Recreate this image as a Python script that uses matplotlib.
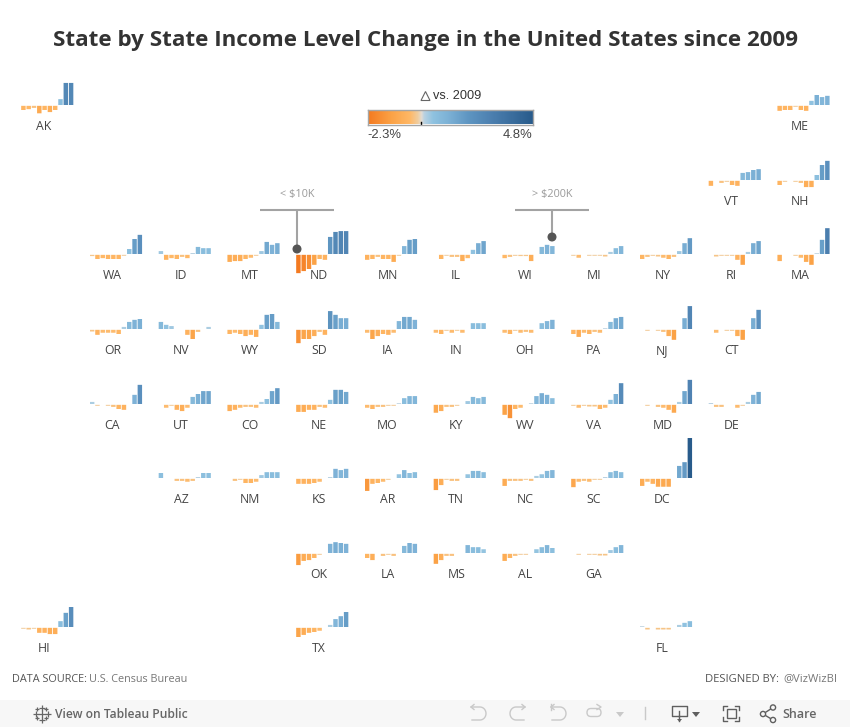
import numpy as np
import matplotlib
matplotlib.use('Agg')
from matplotlib import pyplot as plt
from matplotlib.colors import LinearSegmentedColormap, Normalize
from matplotlib.patches import Rectangle, Polygon, Circle, FancyBboxPatch

W, H = 850, 727

# % change vs 2009 by income bracket, lowest bracket (< $10K) to highest (> $200K)
row_a_states = ['AK', 'ME']
row_a_values = [[-.6, -.5, -.35, -1.0, -.6, -.85, -.6, .7, 2.65, 2.65],
                [-.7, -.6, -.6, -.2, -.6, -.7, .5, 1.2, .95, 1.1]]

row_b_states = ['VT', 'NH']
row_b_values = [[-.7, 0, -.35, -.2, -.6, -.7, .85, .95, 1.2, 1.3],
                [-.6, -.2, 0, -.2, -.35, -.85, -.85, .6, 1.8, 2.3]]

row_c_states = ['WA', 'ID', 'MT', 'ND', 'MN', 'IL', 'WI', 'MI', 'NY', 'RI', 'MA']
row_c_values = [[-.25, -.6, -.5, -.6, -.6, -.6, -.15, .6, 1.8, 2.3],
                [.35, -.7, -.5, -.6, -.35, -.5, .12, .85, .7, .7],
                [-.95, -.85, -.85, -.6, -.45, -.2, .35, 1.45, 1.1, 1.3],
                [-2.3, -2.05, -1.8, -1.3, -.6, -.7, 2.05, 2.65, 2.75, 2.75],
                [-.7, -.6, -.35, -.6, -.6, -.95, -.15, .95, 1.7, 1.8],
                [0, -.6, -.15, -.35, -.35, -.85, -.5, .5, 1.3, 1.55],
                [-.5, -.35, -.2, -.25, -.25, -.85, 0, .85, 1.1, .95],
                [-.15, -.45, 0, -.15, -.15, -.15, -.3, .25, .7, .95],
                [-.6, -.35, -.2, -.3, -.45, -.6, -.35, .35, 1.3, 1.9],
                [0, -.3, -.2, -.2, -.2, -.7, -1.3, .25, 1.3, 1.55],
                [-.85, 0, 0, -.2, -.45, -.95, -1.3, .1, 1.7, 3.1]]

row_d_states = ['OR', 'NV', 'WY', 'SD', 'IA', 'IN', 'OH', 'PA', 'NJ', 'CT']
row_d_values = [[-.3, -.7, -.45, -.45, -.45, -.6, .25, .85, 1.1, 1.2],
                [.85, .5, .35, 0, 0, -.7, -1.2, -.35, 0, .25],
                [-.6, -.45, -.6, -.85, -.7, -.95, .5, 1.7, 1.8, .85],
                [-1.7, -1.2, -1.2, -.85, -.35, -.7, 2.15, 1.7, 1.3, 1.3],
                [-.45, -1.2, -.85, -.6, -.7, -.45, .95, 1.45, 1.45, 1.1],
                [-.45, -.6, -.2, -.45, -.2, -.45, 0, .7, .7, .7],
                [-.45, -.6, -.2, -.45, -.35, -.45, 0, .7, .95, 1.1],
                [-.6, -.95, -.45, -.6, -.35, -.45, .1, .85, 1.3, 1.45],
                [0, -.2, 0, -.2, -.35, -.85, -1.3, 0, 1.3, 2.75],
                [0, -.45, 0, -.2, -.2, -.85, -1.3, 0, 1.3, 2.3]]

row_e_states = ['CA', 'UT', 'CO', 'NE', 'MO', 'KY', 'WV', 'VA', 'MD', 'DE']
row_e_values = [[.25, -.2, 0, -.2, -.35, -.6, -.7, 0, 1.1, 2.3],
                [0, -.45, -.2, -.7, -.85, -.45, .85, 1.2, 1.55, 1.55],
                [-.85, -.7, -.45, -.35, -.35, -.45, .25, .6, 1.55, 1.9],
                [-.95, -.95, -.7, -.7, -.35, -.45, .5, 1.7, 1.7, 1.45],
                [-.45, -.6, -.35, -.35, -.2, -.2, .1, .7, .95, .95],
                [-1.05, -.85, -.35, -.35, -.2, 0, .35, .85, .7, .85],
                [-1.3, -1.7, -.6, -.45, 0, .1, .95, 1.3, 1.1, .7],
                [-.2, -.45, -.2, -.3, -.3, -.6, -.45, .5, 1.2, 2.5],
                [0, -.2, 0, -.35, -.45, -.7, -1.05, .25, 1.55, 2.9],
                [.12, -.35, -.35, 0, 0, -.45, -.2, .25, 1.1, 1.45]]

row_f_states = ['AZ', 'NM', 'KS', 'AR', 'TN', 'NC', 'SC', 'DC']
row_f_values = [[.6, 0, 0, -.35, -.35, -.45, -.35, .12, .6, .6],
                [0, -.35, -.2, -.6, -.6, -.45, .35, .7, .7, .7],
                [-.7, -.7, -.7, -.6, -.45, 0, .12, 1.1, .95, 1.1],
                [-1.55, -.7, -.6, -.45, -.2, 0, .45, .95, .6, .7],
                [-1.45, -.85, -.2, -.35, -.35, 0, .45, .85, .85, .7],
                [-.95, -.35, -.35, -.35, -.2, -.35, .25, .45, .85, .95],
                [-1.1, -.45, -.35, -.45, -.2, -.2, .12, .7, .85, .7],
                [-.95, -.45, -.7, -1.05, -1.05, -1.05, 0, 1.45, 1.9, 4.8]]

row_g_states = ['OK', 'LA', 'MS', 'AL', 'GA']
row_g_values = [[-1.45, -.95, -.85, -.6, -.2, 0, 1.1, 1.3, 1.2, 1.1],
                [-.6, -.85, 0, -.35, -.2, -.35, 0, .85, 1.2, 1.1],
                [-1.3, -.85, -.35, -.35, 0, 0, .95, .7, .7, .45],
                [-.95, -.6, -.35, -.2, -.2, 0, .45, .7, .95, .6],
                [0, -.2, 0, -.2, -.2, -.3, -.3, .35, .7, .95]]

row_h_states = ['HI', 'TX', 'FL']
row_h_values = [[-.15, -.3, -.15, -.7, -.7, -.85, -.85, .7, 1.7, 2.4],
                [-1.2, -.95, -.7, -.6, -.45, 0, .25, .95, 1.3, 1.8],
                [.1, -.3, 0, -.3, -.3, -.3, 0, .25, .5, .7]]

# grid layout: zero line in pixels, column of each state
rows = [(row_a_states, row_a_values, 105, [-1, 10]),
        (row_b_states, row_b_values, 180, [9, 10]),
        (row_c_states, row_c_values, 254, list(range(11))),
        (row_d_states, row_d_values, 329, list(range(10))),
        (row_e_states, row_e_values, 404, list(range(10))),
        (row_f_states, row_f_values, 478, list(range(1, 9))),
        (row_g_states, row_g_values, 553, list(range(3, 8))),
        (row_h_states, row_h_values, 627, [-1, 3, 8])]

color_stops = [(-2.3, '#f47a20'), (-1.3, '#fba246'), (-.5, '#ffb866'), (-.15, '#f0cd9f'),
               (0, '#e3dcd3'), (.12, '#b9d2e2'), (.5, '#8fc2e0'), (1.2, '#7bb0d5'),
               (2.0, '#5f96c2'), (3.0, '#4d80b0'), (4.8, '#285b8b')]
vmin, vmax = -2.3, 4.8
norm = Normalize(vmin, vmax)
cmap = LinearSegmentedColormap.from_list(
    'change', [(norm(v), c) for v, c in color_stops], N=512)

LABEL_FONT = ['Open Sans', 'DejaVu Sans']
PX_PER_PCT = 8.33
PITCH = 5.3
GAP = .1  # negative bars start a little under the zero line

fig = plt.figure(figsize=(W / 100, H / 100), dpi=100, facecolor='white')

# pixel overlay for text and decoration
bg = fig.add_axes([0, 0, 1, 1], zorder=0)
bg.set_xlim(0, W)
bg.set_ylim(H, 0)
bg.axis('off')


def state_panel(name, vals, col, base):
    right = 142.5 + 68.75 * col
    left = right - 10 * PITCH
    bottom = base + 2.5 * PX_PER_PCT
    ax = fig.add_axes([left / W, 1 - bottom / H, 10 * PITCH / W, 7.5 * PX_PER_PCT / H], zorder=2)
    ax.patch.set_alpha(0)
    ax.set_xlim(-.5, 9.5)
    ax.set_ylim(-2.5, 5)
    ax.axis('off')
    vals = np.array(vals)
    # one pixel at least for the tiny negative bars
    heights = np.where(vals < 0, np.minimum(vals + GAP, -.12), vals)
    starts = np.where(vals < 0, -GAP, 0)
    ax.bar(range(10), heights, bottom=starts, width=.84, color=cmap(norm(vals)), linewidth=0,
           snap=False)
    bg.text(right - 30, base + 25.2, name, ha='center', va='baseline',
            fontsize=8.8, color='#444444', family=LABEL_FONT)


for states, vals, base, cols in rows:
    for name, v, col in zip(states, vals, cols):
        state_panel(name, v, col, base)

# title
bg.text(425.5, 46, 'State by State Income Level Change in the United States since 2009',
        ha='center', va='baseline', fontsize=16.15, fontweight='bold', color='#333333',
        family=LABEL_FONT)

# colour legend
cax = fig.add_axes([367.5 / W, 1 - 124.5 / H, 165 / W, 15 / H], zorder=2)
cax.imshow(np.linspace(vmin, vmax, 512).reshape(1, -1), cmap=cmap, norm=norm,
           aspect='auto', extent=[vmin, vmax, 0, 1])
cax.set_xticks([])
cax.set_yticks([])
for s in cax.spines.values():
    s.set_color('#a5a5a5')
    s.set_linewidth(1)
cax.plot([0, 0], [0, .2], color='black', lw=1)
bg.text(433, 99, 'vs. 2009', ha='left', va='baseline', fontsize=9.2, color='#333333',
        family='Liberation Sans')
bg.add_patch(Polygon([[421, 100.5], [430, 100.5], [425.5, 91.5]], closed=True, fill=False,
                     edgecolor='#666666', lw=.8))
bg.text(367, 138.5, '-2.3%', ha='left', va='baseline', fontsize=9.4, color='#444444',
        family='Liberation Sans')
bg.text(532, 138.5, '4.8%', ha='right', va='baseline', fontsize=9.4, color='#444444',
        family='Liberation Sans')

# bracket call-outs
for cx, lab, tip in [(297, '< $10K', 249), (552, '> $200K', 237)]:
    bg.text(cx, 197, lab, ha='center', va='baseline', fontsize=7.8, color='#9a9a9a',
            family=LABEL_FONT)
    bg.plot([cx - 37, cx + 37], [210, 210], color='#a3a3a3', lw=1.5, solid_capstyle='butt')
    bg.plot([cx, cx], [210, tip], color='#a3a3a3', lw=1.5, solid_capstyle='butt')
    bg.add_patch(Circle((cx, tip), 3.8, color='#555555', zorder=5))

# credits
bg.text(12, 681.5, 'DATA SOURCE:', ha='left', va='baseline', fontsize=7.8, color='#555555', family=LABEL_FONT)
bg.text(89, 681.5, 'U.S. Census Bureau', ha='left', va='baseline', fontsize=7.8, color='#777777', family=LABEL_FONT)
bg.text(779, 681.5, 'DESIGNED BY:', ha='right', va='baseline', fontsize=8.1, color='#555555', family=LABEL_FONT)
bg.text(837, 681.5, '@VizWizBI', ha='right', va='baseline', fontsize=8.1, color='#777777', family=LABEL_FONT)

# toolbar
bg.add_patch(Rectangle((0, 700), W, 27, color='#f7f7f7', lw=0, zorder=0))
bg.text(55, 718, 'View on Tableau Public', ha='left', va='baseline', fontsize=8.7, fontweight='semibold',
        color='#666666', family=LABEL_FONT)
bg.text(782, 718, 'Share', ha='left', va='baseline', fontsize=9, fontweight='semibold',
        color='#666666', family=LABEL_FONT)

# logo crosses
for dx, dy, s in [(0, 0, 6), (-6, 0, 4), (6, 0, 4), (0, -6, 4), (0, 6, 4),
                  (-4.5, -4.5, 3), (4.5, -4.5, 3), (-4.5, 4.5, 3), (4.5, 4.5, 3)]:
    bg.plot(41.7 + dx, 713.5 + dy, marker='+', ms=s, mew=.9, color='#666666')

icon = '#c9c9c9'
dark = '#5f5f5f'
t = np.linspace(-np.pi / 2, np.pi / 2, 20)
# undo / redo arrows
for x0, d in [(471, 1), (525, -1), (551, 1)]:
    bg.plot(x0 + d * np.r_[0, 9, 9 + 6 * np.cos(t), 1],
            np.r_[707, 707, 713.5 + 6.5 * np.sin(t), 720], color=icon, lw=1)
    bg.plot([x0 + d * 3, x0, x0 + d * 3], [704.5, 707, 709.5], color=icon, lw=1)
bg.plot([551, 551], [704, 710], color=icon, lw=1)
bg.add_patch(FancyBboxPatch((587, 708.5), 14, 8, boxstyle='round,pad=0,rounding_size=4',
                            fill=False, edgecolor=icon, lw=1))
bg.plot([597, 601, 597], [704.5, 707, 709.5], color=icon, lw=1)
bg.add_patch(Polygon([[616, 712], [624, 712], [620, 717]], color=icon, lw=0))
bg.plot([645, 645], [707, 719], color=icon, lw=1)
# download
bg.plot([679, 672, 672, 687, 687, 679], [716, 716, 706, 706, 716, 716], color=dark, lw=1)
bg.plot([679.5, 679.5], [711, 721], color=dark, lw=1)
bg.add_patch(Polygon([[677, 719], [682, 719], [679.5, 722]], color=dark, lw=0))
bg.add_patch(Polygon([[692, 712], [700, 712], [696, 717]], color=dark, lw=0))
# fullscreen
bg.add_patch(Rectangle((727, 709), 9, 9, fill=False, edgecolor=dark, lw=1))
for cx, sx in [(723, 1), (739, -1)]:
    for cy, sy in [(706, 1), (721, -1)]:
        bg.plot([cx + sx * 4, cx, cx], [cy, cy, cy + sy * 4], color=dark, lw=1)
# share
bg.plot([773, 763, 773], [707.5, 714, 720], color=dark, lw=1)
for cx, cy in [(763, 714), (773, 707.5), (773, 720)]:
    bg.add_patch(Circle((cx, cy), 2.6, facecolor='#f7f7f7', edgecolor=dark, lw=1, zorder=4))

fig.savefig('out.png', dpi=100)
